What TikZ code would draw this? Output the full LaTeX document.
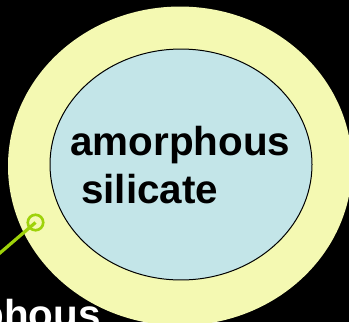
\documentclass[tikz,border=0pt]{standalone}
\usepackage{fontspec}
\setmainfont{Liberation Sans}
\definecolor{mantleyellow}{HTML}{F4F9B2}
\definecolor{coreblue}{HTML}{C3E5E8}
\definecolor{pointergreen}{HTML}{9ED20A}
\tikzset{
  grainlabel/.style={font=\fontsize{30.3}{36}\selectfont\bfseries, inner sep=0pt, anchor=base west},
}
\begin{document}
\begin{tikzpicture}[x=0.75pt, y=-0.75pt]
		\useasboundingbox (0,0) rectangle (349,322);
		\clip (0,0) rectangle (349,322);
		\fill[black] (0,0) rectangle (349,322);
		
		% Manto exterior (amarillo)
		\fill[mantleyellow] (180,166) ellipse (129pt and 119.6pt);
		
		% Nucleo de silicato
		\filldraw[fill=coreblue, draw=black, line width=0.75pt] (181,164.5) ellipse (98.25pt and 86.6pt);
		\node[grainlabel] (amor) at (70,155) {amorphous};
		\node[grainlabel] (sil) at (81,203) {silicate};
		
		% Puntero verde hacia la etiqueta de abajo
		\node[circle, draw=pointergreen, line width=2pt, minimum size=11.6pt, inner sep=0pt] (tip) at (35.5,222.5) {};
		\coordinate (lead) at (-35,283);
		\draw[pointergreen, line width=2.4pt] (tip.center) -- (lead);
		\node[grainlabel, anchor=base east, text=white] (outer) at (101,328) {amorphous};
	\end{tikzpicture}
\end{document}
